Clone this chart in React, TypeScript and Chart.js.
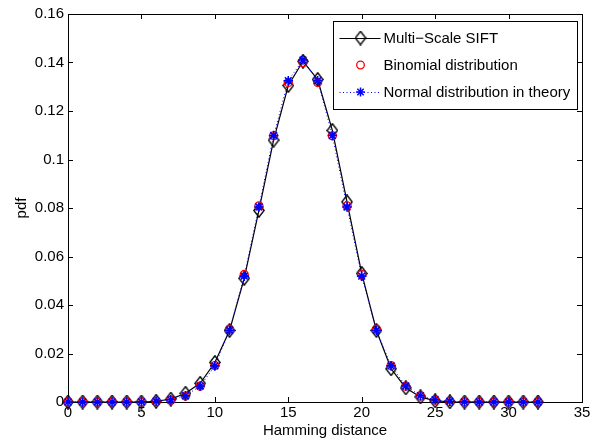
import React, { useEffect, useRef } from 'react';
import { Chart, registerables } from 'chart.js';

Chart.register(...registerables);

const hammingDistance = [0, 1, 2, 3, 4, 5, 6, 7, 8, 9, 10, 11, 12, 13, 14, 15, 16, 17, 18, 19, 20, 21, 22, 23, 24, 25, 26, 27, 28, 29, 30, 31, 32];

const siftPdf = [0, 0, 0, 0, 0, 0, 0.0003, 0.0012, 0.0036, 0.0077, 0.0163, 0.0295, 0.051, 0.079, 0.108, 0.1305, 0.1405, 0.133, 0.112, 0.0825, 0.053, 0.0295, 0.0137, 0.0058, 0.0021, 0.0005, 0.0001, 0, 0, 0, 0, 0, 0];

const binomialPdf = [0, 0, 0, 0, 0.00001, 0.00005, 0.00021, 0.00078, 0.00245, 0.00653, 0.01502, 0.03004, 0.05257, 0.08088, 0.10976, 0.13172, 0.13995, 0.13172, 0.10976, 0.08088, 0.05257, 0.03004, 0.01502, 0.00653, 0.00245, 0.00078, 0.00021, 0.00005, 0.00001, 0, 0, 0, 0];

const normalPdf = [0, 0, 0, 0, 0.00001, 0.00005, 0.0003, 0.0009, 0.0026, 0.0066, 0.0149, 0.0296, 0.0519, 0.0804, 0.1099, 0.1325, 0.14105, 0.1325, 0.1099, 0.0804, 0.0519, 0.0296, 0.0149, 0.0066, 0.0026, 0.0009, 0.0003, 0.00005, 0.00001, 0, 0, 0, 0];

const xTicks = [0, 5, 10, 15, 20, 25, 30, 35];
const yTicks = [0, 0.02, 0.04, 0.06, 0.08, 0.1, 0.12, 0.14, 0.16];

const seriesNames = ['Multi\u2212Scale SIFT', 'Binomial distribution', 'Normal distribution in theory'];
const xTitle = 'Hamming distance';
const yTitle = 'pdf';

const FONT = "'Liberation Sans', Arial, Helvetica, sans-serif";
const RED = 'rgb(255,0,0)';
const BLUE = 'rgb(0,0,255)';

function makeDiamond(): HTMLCanvasElement {
  const c = document.createElement('canvas');
  c.width = 12;
  c.height = 15;
  const g = c.getContext('2d')!;
  g.strokeStyle = '#000';
  g.lineWidth = 1.4;
  g.beginPath();
  g.moveTo(6, 0.8);
  g.lineTo(11.2, 7.5);
  g.lineTo(6, 14.2);
  g.lineTo(0.8, 7.5);
  g.closePath();
  g.stroke();
  return c;
}

function drawStar(ctx: CanvasRenderingContext2D, x: number, y: number, r: number) {
  const d = r * Math.SQRT1_2;
  ctx.beginPath();
  ctx.moveTo(x - r, y); ctx.lineTo(x + r, y);
  ctx.moveTo(x, y - r); ctx.lineTo(x, y + r);
  ctx.moveTo(x - d, y - d); ctx.lineTo(x + d, y + d);
  ctx.moveTo(x - d, y + d); ctx.lineTo(x + d, y - d);
  ctx.stroke();
}

const axesPlugin = {
  id: 'matlabAxes',
  beforeDatasetsDraw(chart: any) {
    const { ctx, chartArea: a, scales } = chart;
    ctx.save();
    ctx.strokeStyle = '#000';
    ctx.lineWidth = 1;
    ctx.strokeRect(Math.round(a.left) + 0.5, Math.round(a.top) + 0.5, Math.round(a.right - a.left), Math.round(a.bottom - a.top));
    const tl = 5;
    ctx.beginPath();
    for (const v of xTicks) {
      const px = Math.round(scales.x.getPixelForValue(v)) + 0.5;
      ctx.moveTo(px, a.bottom); ctx.lineTo(px, a.bottom - tl);
      ctx.moveTo(px, a.top); ctx.lineTo(px, a.top + tl);
    }
    for (const v of yTicks) {
      const py = Math.round(scales.y.getPixelForValue(v)) + 0.5;
      ctx.moveTo(a.left, py); ctx.lineTo(a.left + tl, py);
      ctx.moveTo(a.right, py); ctx.lineTo(a.right - tl, py);
    }
    ctx.stroke();
    ctx.restore();
  },
};

function makeLegendPlugin(diamond: HTMLCanvasElement) {
  return {
    id: 'matlabLegend',
    afterDraw(chart: any) {
      const { ctx, chartArea: a } = chart;
      const w = 244;
      const h = 88;
      const left = Math.round(a.right - 5 - w) + 0.5;
      const top = Math.round(a.top + 7) + 0.5;
      ctx.save();
      ctx.fillStyle = '#fff';
      ctx.fillRect(left, top, w, h);
      ctx.strokeStyle = '#000';
      ctx.lineWidth = 1;
      ctx.strokeRect(left, top, w, h);
      const rows = [top + 16.5, top + 43.5, top + 70.5];
      const x0 = left + 6;
      const x1 = left + 47;
      const xm = left + 27;
      ctx.lineWidth = 1.1;
      ctx.beginPath();
      ctx.moveTo(x0, Math.round(rows[0]) + 0.5);
      ctx.lineTo(x1, Math.round(rows[0]) + 0.5);
      ctx.stroke();
      ctx.drawImage(diamond, xm - diamond.width / 2, rows[0] - diamond.height / 2);
      ctx.strokeStyle = RED;
      ctx.lineWidth = 1.3;
      ctx.beginPath();
      ctx.arc(xm, rows[1], 3.8, 0, Math.PI * 2);
      ctx.stroke();
      ctx.strokeStyle = BLUE;
      ctx.lineWidth = 1;
      ctx.setLineDash([1, 2.5]);
      ctx.beginPath();
      ctx.moveTo(x0, Math.round(rows[2]) + 0.5);
      ctx.lineTo(x1, Math.round(rows[2]) + 0.5);
      ctx.stroke();
      ctx.setLineDash([]);
      ctx.lineWidth = 1.5;
      drawStar(ctx, xm, rows[2], 4.5);
      ctx.fillStyle = '#000';
      ctx.font = `15px ${FONT}`;
      ctx.textAlign = 'left';
      ctx.textBaseline = 'middle';
      seriesNames.forEach((n, i) => ctx.fillText(n, left + 50, rows[i] + 1));
      ctx.restore();
    },
  };
}

export default function App() {
  const ref = useRef<HTMLCanvasElement | null>(null);

  useEffect(() => {
    if (!ref.current) return;
    const diamond = makeDiamond();
    const pts = (ys: number[]) => hammingDistance.map((x, i) => ({ x, y: ys[i] }));
    const chart = new Chart(ref.current, {
      type: 'line',
      data: {
        datasets: [
          {
            label: seriesNames[2],
            data: pts(normalPdf),
            borderColor: BLUE,
            borderWidth: 1,
            borderDash: [1, 2.5],
            pointStyle: 'star',
            pointRadius: 4.8,
            pointBorderColor: BLUE,
            pointBorderWidth: 1.6,
            pointBackgroundColor: BLUE,
            fill: false,
            clip: false,
            order: 0,
          } as any,
          {
            label: seriesNames[1],
            data: pts(binomialPdf),
            showLine: false,
            pointStyle: 'circle',
            pointRadius: 4,
            pointBorderColor: RED,
            pointBorderWidth: 1.3,
            pointBackgroundColor: 'rgba(0,0,0,0)',
            fill: false,
            clip: false,
            order: 1,
          } as any,
          {
            label: seriesNames[0],
            data: pts(siftPdf),
            borderColor: '#000',
            borderWidth: 1.2,
            pointStyle: diamond,
            pointRadius: 6,
            fill: false,
            clip: false,
            order: 2,
          } as any,
        ],
      },
      options: {
        animation: false,
        responsive: false,
        devicePixelRatio: 1,
        layout: { padding: { top: 14, right: 14, left: 0, bottom: 0 } },
        plugins: { legend: { display: false }, tooltip: { enabled: false } },
        elements: { line: { tension: 0 } },
        scales: {
          x: {
            type: 'linear',
            min: 0,
            max: 35,
            afterBuildTicks: (s: any) => { s.ticks = xTicks.map((v) => ({ value: v })); },
            afterFit: (s: any) => { s.height = 39; },
            grid: { display: false, drawTicks: false },
            border: { display: false },
            ticks: { color: '#000', padding: 2, font: { family: FONT, size: 15 }, maxRotation: 0, autoSkip: false },
            title: { display: true, text: xTitle, color: '#000', font: { family: FONT, size: 15 }, padding: { top: 0, bottom: 1 } },
          },
          y: {
            type: 'linear',
            min: 0,
            max: 0.16,
            afterBuildTicks: (s: any) => { s.ticks = yTicks.map((v) => ({ value: v })); },
            afterFit: (s: any) => { s.width = 68; },
            grid: { display: false, drawTicks: false },
            border: { display: false },
            ticks: {
              color: '#000',
              padding: 4,
              font: { family: FONT, size: 15 },
              autoSkip: false,
              callback: (v: any) => String(Number(Number(v).toFixed(2))),
            },
            title: { display: true, text: yTitle, color: '#000', font: { family: FONT, size: 15 }, padding: { top: 13, bottom: 0 } },
          },
        },
      } as any,
      plugins: [axesPlugin, makeLegendPlugin(diamond)],
    });
    return () => chart.destroy();
  }, []);

  return (
    <div style={{ position: 'absolute', left: 0, top: 0, width: 596, height: 441, background: '#fff' }}>
      <canvas ref={ref} width={596} height={441} style={{ display: 'block' }} />
    </div>
  );
}
